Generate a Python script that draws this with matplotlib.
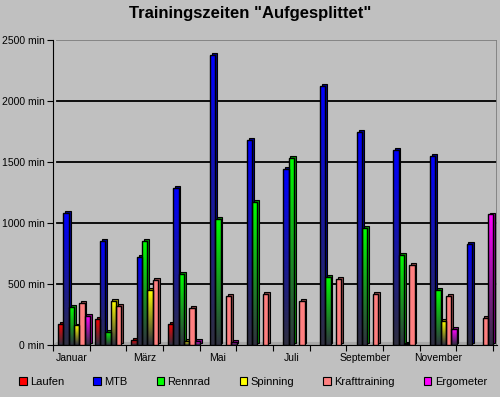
import numpy as np
import matplotlib
matplotlib.use("Agg")
import matplotlib.pyplot as plt
from matplotlib.colors import LinearSegmentedColormap, to_rgb
from matplotlib.patches import Rectangle, Polygon

plt.rcParams["font.family"] = ["Liberation Sans", "DejaVu Sans"]

months = ["Januar", "Februar", "März", "April", "Mai", "Juni", "Juli",
          "August", "September", "Oktober", "November", "Dezember"]
series = ["Laufen", "MTB", "Rennrad", "Spinning", "Krafttraining", "Ergometer"]
colors = ["#FF0000", "#0000FF", "#00FF00", "#FFFF00", "#FF8080", "#FF00FF"]

laufen = [175, 215, 40, 175, 0, 0, 0, 0, 0, 0, 0, 0]
mtb = [1080, 850, 720, 1290, 2380, 1680, 1440, 2120, 1750, 1600, 1550, 830]
rennrad = [310, 110, 850, 580, 1030, 1170, 1530, 560, 960, 740, 450, 0]
spinning = [160, 360, 450, 30, 0, 0, 0, 0, 0, 10, 195, 0]
kraft = [345, 320, 530, 300, 405, 420, 360, 540, 420, 660, 405, 225]
ergometer = [240, 0, 0, 30, 25, 0, 0, 0, 0, 0, 130, 1070]
values = [laufen, mtb, rennrad, spinning, kraft, ergometer]

bg = "#C0C0C0"
fig = plt.figure(figsize=(5.0, 3.97), dpi=100, facecolor=bg)
ax = fig.add_axes([0.106, 0.131, 0.888, 0.768], facecolor=bg)
ax.set_xlim(0, 12.11)
ax.set_ylim(0, 2500)

# back wall grid
for g in [500, 1000, 1500, 2000]:
    ax.plot([0.1, 12.11], [g, g], color="black", lw=1.3, zorder=1)
ax.plot([0.1, 12.11], [2500, 2500], color="#808080", lw=1.3, zorder=1)
ax.plot([12.1, 12.1], [0, 2500], color="#808080", lw=1.3, zorder=1)

# floor strip
ax.add_patch(Polygon([[0, 0], [0.1, 25], [12.11, 25], [12.0, 0]],
                     closed=True, facecolor="#A8A8A8", edgecolor="none", zorder=1))

width = 0.145
dx, dy = 0.05, 16
dark = to_rgb("#303040")
grad = np.linspace(0, 1, 64).reshape(-1, 1)
for k, (name, col, vals) in enumerate(zip(series, colors, values)):
    c = to_rgb(col)
    if name == "Krafttraining":
        cmap = LinearSegmentedColormap.from_list(name, [c, c])
    else:
        cmap = LinearSegmentedColormap.from_list(name, [dark, c])
    side = tuple(v * 0.55 for v in c)
    for i, v in enumerate(vals):
        if v <= 0:
            continue
        x0 = i + 0.5 + (k - 2.5) * width
        ax.add_patch(Rectangle((x0 + dx, dy), width, v, facecolor=side,
                               edgecolor="black", lw=0.8, zorder=2 + k * 0.01))
        rect = Rectangle((x0, 0), width, v, facecolor="none",
                         edgecolor="black", lw=1.0, zorder=3 + k * 0.01)
        ax.add_patch(rect)
        im = ax.imshow(grad, cmap=cmap, aspect="auto", origin="lower",
                       extent=[x0, x0 + width, 0, v], zorder=2.5 + k * 0.01)
        im.set_clip_path(rect)

ax.set_xlim(0, 12.11)
ax.set_ylim(0, 2500)

for s in ["top", "right"]:
    ax.spines[s].set_visible(False)

ax.set_yticks([0, 500, 1000, 1500, 2000, 2500])
ax.set_yticklabels([f"{t} min" for t in [0, 500, 1000, 1500, 2000, 2500]])
ax.set_xticks(np.arange(0, 13))
ax.set_xticklabels([])
ax.set_xticks(np.arange(0.5, 12, 2), minor=True)
ax.set_xticklabels(months[::2], minor=True)
ax.tick_params(axis="x", which="minor", length=0, pad=6, labelsize=7.5)
ax.tick_params(axis="x", which="major", length=4, direction="out")
ax.tick_params(axis="y", length=4, direction="out", labelsize=7.5, pad=2)

fig.suptitle('Trainingszeiten "Aufgesplittet"', x=0.5, y=0.985,
             fontsize=12, fontweight="bold")

handles = [Rectangle((0, 0), 1, 1, facecolor=c, edgecolor="black", lw=0.8)
           for c in colors]
fig.legend(handles, series, loc="center", bbox_to_anchor=(0.506, 0.038), ncol=6,
           frameon=False, fontsize=8, handlelength=0.7, handleheight=0.7,
           handletextpad=0.3, columnspacing=2.6)

fig.savefig("out.png", dpi=100, facecolor=bg)
